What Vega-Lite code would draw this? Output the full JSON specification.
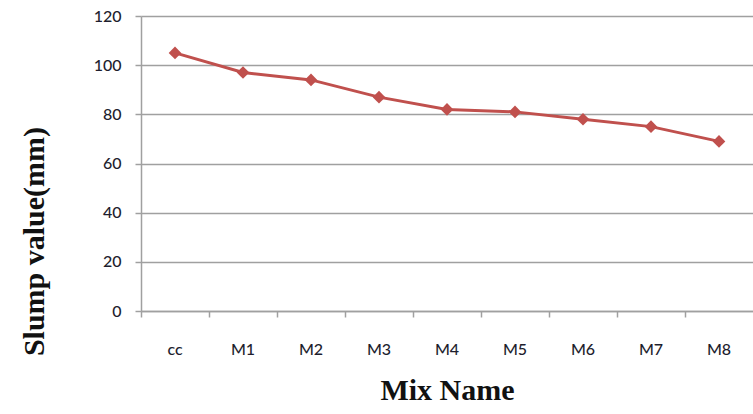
{
  "$schema": "https://vega.github.io/schema/vega-lite/v6.json",
  "width": 612,
  "height": 295,
  "autosize": {"type": "none"},
  "padding": {"left": 141, "top": 16, "right": 0, "bottom": 103},
  "background": "white",
  "config": {
    "view": {"stroke": null},
    "axis": {
      "labelFont": "Lato",
      "labelFontSize": 16,
      "labelFontWeight": 500,
      "labelColor": "#1e1e2e",
      "titleFont": "Liberation Serif",
      "titleFontWeight": "bold",
      "titleFontSize": 30,
      "titleColor": "#111111",
      "domainColor": "#a0a0a0",
      "domainWidth": 1.5,
      "tickColor": "#a0a0a0",
      "tickWidth": 1.5,
      "gridColor": "#a0a0a0",
      "gridWidth": 1.5
    }
  },
  "data": {
    "values": [
      {"mix": "cc", "slump": 105},
      {"mix": "M1", "slump": 97},
      {"mix": "M2", "slump": 94},
      {"mix": "M3", "slump": 87},
      {"mix": "M4", "slump": 82},
      {"mix": "M5", "slump": 81},
      {"mix": "M6", "slump": 78},
      {"mix": "M7", "slump": 75},
      {"mix": "M8", "slump": 69}
    ]
  },
  "encoding": {
    "x": {
      "field": "mix",
      "type": "nominal",
      "sort": null,
      "scale": {"type": "band", "paddingInner": 0, "paddingOuter": 0},
      "axis": {
        "title": "Mix Name",
        "labelAngle": 0,
        "bandPosition": 0,
        "tickSize": 6,
        "labelPadding": 24,
        "titlePadding": 18,
        "grid": false
      }
    },
    "y": {
      "field": "slump",
      "type": "quantitative",
      "scale": {"domain": [0, 120], "nice": false},
      "axis": {
        "title": "Slump value(mm)",
        "values": [0, 20, 40, 60, 80, 100, 120],
        "tickSize": 6,
        "labelPadding": 14,
        "titlePadding": 44,
        "titleY": 225,
        "grid": true
      }
    }
  },
  "layer": [
    {"mark": {"type": "line", "color": "#C0504D", "strokeWidth": 3}},
    {"mark": {"type": "point", "shape": "diamond", "filled": true, "color": "#C0504D", "opacity": 1, "size": 160}}
  ]
}
